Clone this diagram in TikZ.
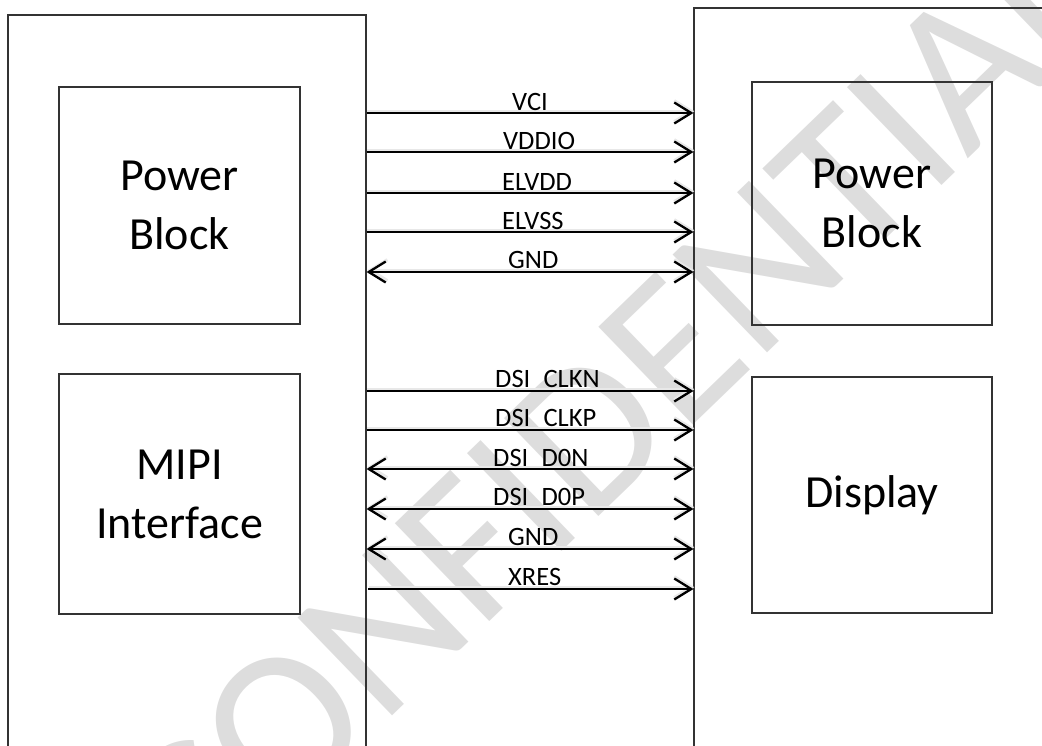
\documentclass[tikz,border=0pt]{standalone}
\usepackage{fontspec}
\setmainfont{Carlito}
\usetikzlibrary{arrows.meta}
\definecolor{wm}{HTML}{DDDDDD}
\definecolor{boxline}{HTML}{333333}
\tikzset{
  outerbox/.style={draw=boxline, line width=1.1pt, inner sep=0pt},
  innerbox/.style={draw=boxline, line width=1.3pt, inner sep=0pt, align=center,
    font=\fontsize{46}{59}\selectfont},
  sig/.style={line width=2.3pt, black,
    preaction={draw=black!9, line width=3.2pt, transform canvas={shift={(0.8pt,1.8pt)}}}},
  tipR/.style={-{Straight Barb[length=17pt,width=21pt]}},
  tipLR/.style={{Straight Barb[length=17pt,width=21pt]}-{Straight Barb[length=17pt,width=21pt]}},
  lbl/.style={anchor=base west, inner sep=0pt, font=\fontsize{26.5}{30}\selectfont},
}
\begin{document}
\begin{tikzpicture}[x=1pt,y=-1pt]
\useasboundingbox (0,0) rectangle (1042,745);
\clip (0,0) rectangle (1042,745);
% watermark
\node[text=wm, rotate=44, inner sep=0pt, font=\fontsize{212}{220}\selectfont] (wmk) at (613,408) {CONFIDENTIAL};
% outer boxes
\node[outerbox, minimum width=358pt, minimum height=800pt] (L) at (187,415) {};
\node[outerbox, minimum width=400pt, minimum height=800pt] (R) at (894,408) {};
% inner boxes
\node[innerbox, minimum width=241pt, minimum height=237pt] (LP) at (179.5,205.5) {Power\\Block};
\node[innerbox, minimum width=241pt, minimum height=240pt] (LM) at (179.5,494) {MIPI\\Interface};
\node[innerbox, minimum width=240pt, minimum height=243pt] (RP) at (872,203.5) {Power\\Block};
\node[innerbox, minimum width=240pt, minimum height=236pt] (RD) at (872,495) {Display};
% signals
\draw[sig,tipR]  (L.east |- 0,113) -- (R.west |- 0,113);
\draw[sig,tipR]  (L.east |- 0,152) -- (R.west |- 0,152);
\draw[sig,tipR]  (L.east |- 0,193) -- (R.west |- 0,193);
\draw[sig,tipR]  (L.east |- 0,232) -- (R.west |- 0,232);
\draw[sig,tipLR] (L.east |- 0,272) -- (R.west |- 0,272);
\draw[sig,tipR]  (L.east |- 0,391) -- (R.west |- 0,391);
\draw[sig,tipR]  (L.east |- 0,430) -- (R.west |- 0,430);
\draw[sig,tipLR] (L.east |- 0,469) -- (R.west |- 0,469);
\draw[sig,tipLR] (L.east |- 0,509) -- (R.west |- 0,509);
\draw[sig,tipLR] (L.east |- 0,549) -- (R.west |- 0,549);
\coordinate (xs) at (368,589);
\draw[sig,tipR]  (xs) -- (R.west |- xs);
% labels
\node[lbl] (l1) at (512,110) {VCI};
\node[lbl] (l2) at (503,149.5) {VDDIO};
\node[lbl] (l3) at (502,190) {ELVDD};
\node[lbl] (l4) at (502,229) {ELVSS};
\node[lbl] (l5) at (508,268.5) {GND};
\node[lbl] (l6) at (495,387.5) {DSI\hspace{0.5em}CLKN};
\node[lbl] (l7) at (495,426.5) {DSI\hspace{0.5em}CLKP};
\node[lbl] (l8) at (493,466) {DSI\hspace{0.5em}D0N};
\node[lbl] (l9) at (493,505.5) {DSI\hspace{0.5em}D0P};
\node[lbl] (l10) at (508,545.5) {GND};
\node[lbl] (l11) at (508,585) {XRES};
\end{tikzpicture}
\end{document}
